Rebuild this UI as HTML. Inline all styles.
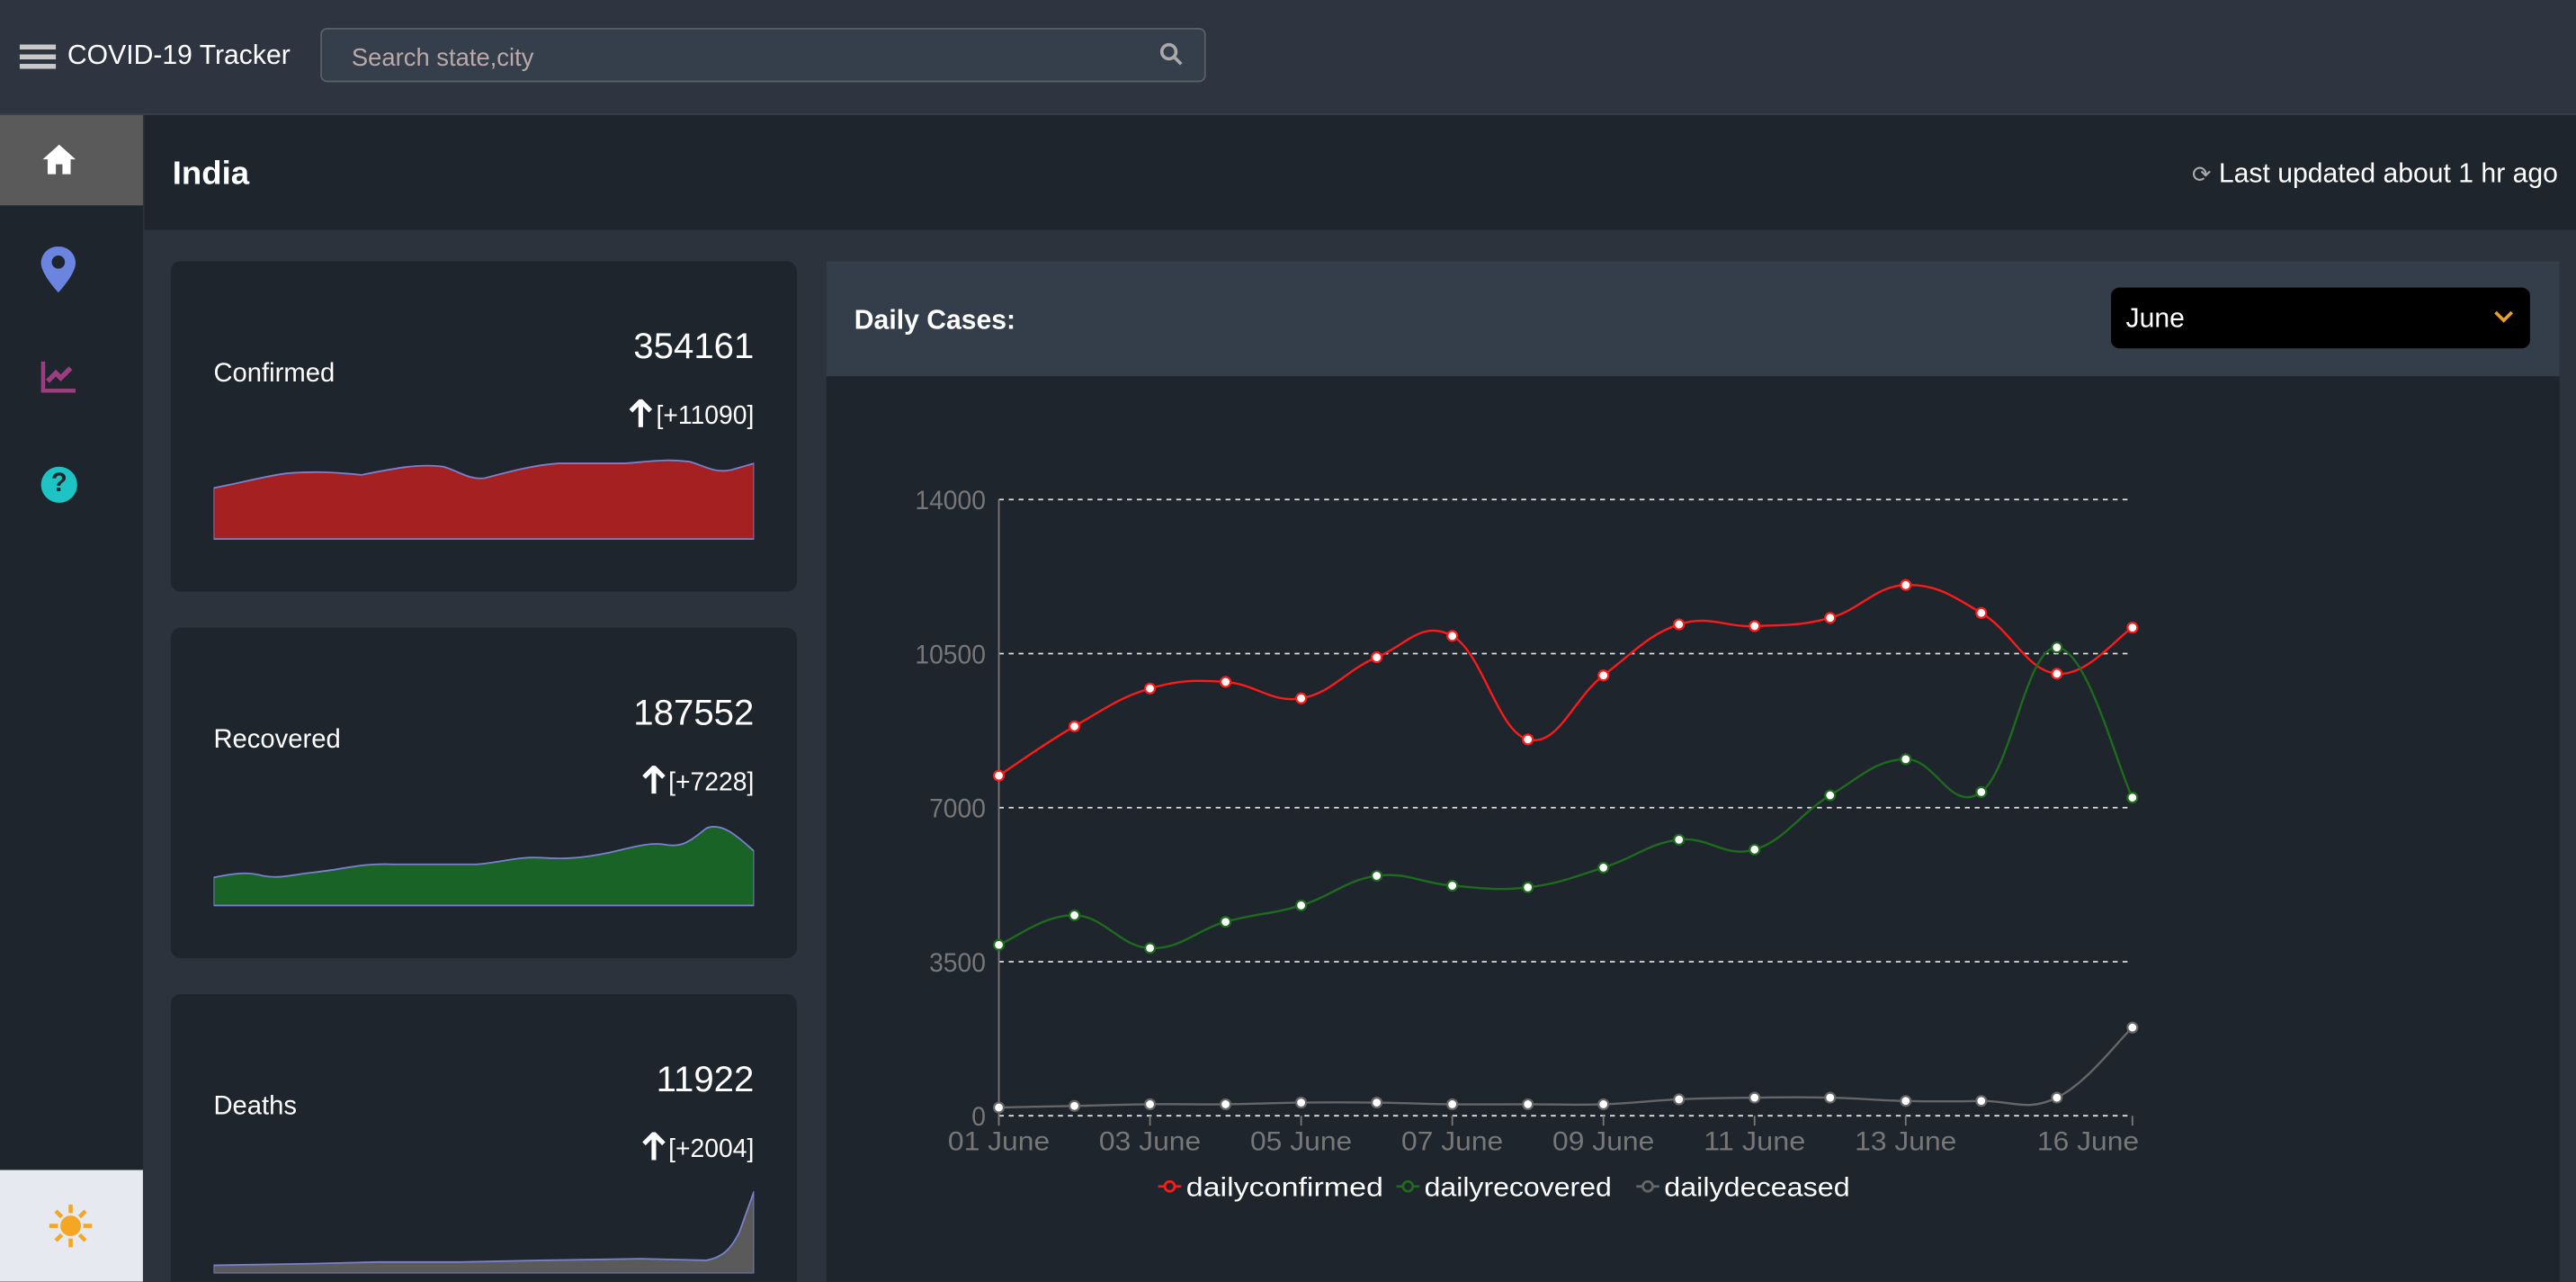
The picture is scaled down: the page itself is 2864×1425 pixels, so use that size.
<!DOCTYPE html>
<html><head><meta charset="utf-8">
<style>
html,body{margin:0;padding:0;background:#2d333d;overflow:hidden;width:2864px;height:1424px}
#w{position:absolute;left:0;top:0;width:1568px;height:780px;transform:scale(1.826531);transform-origin:0 0;font-family:"Liberation Sans",sans-serif;color:#fff;background:#2d333d;overflow:hidden}
.abs{position:absolute}
.card{position:absolute;left:104px;width:381px;height:201px;background:#1f252d;border-radius:6px}
.lbl{position:absolute;left:26px;font-size:16px}
.num{position:absolute;right:26px;font-size:22px}
.delta{position:absolute;right:26px;font-size:15.5px}
.arr{display:inline-block;vertical-align:-2px;margin-right:2px}
</style></head><body>
<div id="w">
<div class="abs" style="left:0;top:0;width:1568px;height:69px;background:#2e3440;border-bottom:1px solid #3a414c"></div>
<div class="abs" style="left:12px;top:27px;width:22px;height:15px;background:repeating-linear-gradient(#c8c8c8 0 3px,transparent 3px 6px)"></div>
<div class="abs" style="left:41px;top:25px;font-size:16.5px">COVID-19 Tracker</div>
<div class="abs" style="left:195px;top:17px;width:537px;height:31px;background:#353e4b;border:1px solid #5a5f66;border-radius:4px">
<span style="position:absolute;left:18px;top:9px;font-size:15px;color:#bba8a8">Search state,city</span>
<svg class="abs" style="left:510px;top:8px" width="14" height="14"><circle cx="5.5" cy="5.5" r="4.3" stroke="#aaa" stroke-width="2" fill="none"/><line x1="8.5" y1="8.5" x2="13" y2="13" stroke="#aaa" stroke-width="2"/></svg>
</div>
<div class="abs" style="left:0;top:70px;width:87px;height:710px;background:#1f252d"></div>
<div class="abs" style="left:0;top:70px;width:87px;height:55px;background:#5a5a5a">
<svg class="abs" style="left:25px;top:17px" width="22" height="20"><path d="M11 1 L1 10 L4 10 L4 19 L9 19 L9 13 L13 13 L13 19 L18 19 L18 10 L21 10 Z" fill="#fff"/></svg></div>
<svg class="abs" style="left:24px;top:149px" width="23" height="30"><path d="M11.5 1 C5 1 1 6 1 11 C1 18 11.5 29 11.5 29 C11.5 29 22 18 22 11 C22 6 18 1 11.5 1Z" fill="#6b84e0"/><circle cx="11.5" cy="10.5" r="4" fill="#1f252d"/></svg>
<svg class="abs" style="left:25px;top:219px" width="22" height="20"><path d="M1 1 V19 H21" stroke="#9b3d80" stroke-width="3" fill="none"/><path d="M4 13 L9 8 L12 11 L18 5" stroke="#9b3d80" stroke-width="3" fill="none"/></svg>
<div class="abs" style="left:25px;top:284px;width:22px;height:22px;border-radius:50%;background:#1ec4c4;color:#1f252d;font-weight:bold;font-size:16px;text-align:center;line-height:22px">?</div>
<div class="abs" style="left:0;top:712px;width:87px;height:68px;background:#e6eaf0">
<svg class="abs" style="left:29px;top:20px" width="28" height="28"><g stroke="#f5a623" stroke-width="2.5"><line x1="14" y1="1" x2="14" y2="27"/><line x1="1" y1="14" x2="27" y2="14"/><line x1="5" y1="5" x2="23" y2="23"/><line x1="23" y1="5" x2="5" y2="23"/></g><circle cx="14" cy="14" r="7" fill="#f5a623" stroke="#e6eaf0" stroke-width="1.5"/></svg></div>
<div class="abs" style="left:88px;top:70px;width:1480px;height:70px;background:#1f252d"></div>
<div class="abs" style="left:105px;top:95px;font-size:20px;font-weight:bold">India</div>
<div class="abs" style="right:11px;top:97px;font-size:16.5px"><span style="color:#aaa;font-size:14px">⟳</span> Last updated about 1 hr ago</div>

<div class="card" style="top:159px">
<div class="lbl" style="top:60px">Confirmed</div><div class="num" style="top:39px">354161</div><div class="delta" style="top:84px"><svg class="arr" width="14" height="17"><path d="M7 1 L7 17 M1 7 L7 1 L13 7" stroke="#fff" stroke-width="2.8" fill="none"/></svg>[+11090]</div>
<svg class="abs" style="left:26px;top:110px" width="329" height="60"><path d="M0 28 C20 24 35 20 45 19 C60 18 70 18 90 20 C110 16 125 13 140 15 C150 18 155 23 165 22 C180 18 195 14 210 13 L250 13 C265 12 275 10 290 12 C300 15 305 19 315 17 L329 13 L329 59 L0 59Z" fill="#a52121" stroke="#7b7fd0" stroke-width="1"/></svg></div>

<div class="card" style="top:382px">
<div class="lbl" style="top:60px">Recovered</div><div class="num" style="top:39px">187552</div><div class="delta" style="top:84px"><svg class="arr" width="14" height="17"><path d="M7 1 L7 17 M1 7 L7 1 L13 7" stroke="#fff" stroke-width="2.8" fill="none"/></svg>[+7228]</div>
<svg class="abs" style="left:26px;top:110px" width="329" height="60"><path d="M0 42 C10 40 20 38 30 41 C40 43 50 40 60 39 C80 37 90 33 110 34 L160 34 C175 33 185 29 200 30 C215 31 225 30 240 27 C250 25 265 20 275 22 C285 24 290 20 300 12 C310 8 320 18 329 26 L329 59 L0 59Z" fill="#1a6326" stroke="#7b7fd0" stroke-width="1"/></svg></div>

<div class="card" style="top:605px;height:190px">
<div class="lbl" style="top:60px">Deaths</div><div class="num" style="top:39px">11922</div><div class="delta" style="top:84px"><svg class="arr" width="14" height="17"><path d="M7 1 L7 17 M1 7 L7 1 L13 7" stroke="#fff" stroke-width="2.8" fill="none"/></svg>[+2004]</div>
<svg class="abs" style="left:26px;top:110px" width="329" height="60"><path d="M0 55 L60 54 L100 53 L150 53 L200 52 L260 51 L300 52 C310 50 315 45 320 35 L329 10 L329 60 L0 60Z" fill="#5a5a5a" stroke="#7b7fd0" stroke-width="1"/></svg></div>

<div class="abs" style="left:503px;top:159px;width:1055px;height:640px;background:#1f252d"></div>
<div class="abs" style="left:503px;top:159px;width:1055px;height:70px;background:#343d4a"></div>
<div class="abs" style="left:520px;top:186px;font-size:16.5px;font-weight:bold">Daily Cases:</div>
<div class="abs" style="left:1285px;top:175px;width:255px;height:37px;background:#000;border-radius:5px;font-size:16.5px;line-height:39px">
<span style="position:absolute;left:9px">June</span>
<svg class="abs" style="left:233px;top:14px" width="12" height="8"><path d="M1 1 L6 6 L11 1" stroke="#f0a020" stroke-width="2" fill="none"/></svg></div>

<svg id="chart" class="abs" style="left:0;top:0" width="1568" height="780"></svg>
</div>
<script>
const categories=["01 June","02 June","03 June","04 June","05 June","06 June","07 June","08 June","09 June","10 June","11 June","12 June","13 June","14 June","15 June","16 June"];
const dailyconfirmed=[7728,8848,9707,9856,9483,10416,10901,8549,10005,11163,11125,11312,12059,11424,10043,11090];
const dailyrecovered=[3883,4555,3808,4405,4779,5451,5227,5189,5637,6272,6048,7280,8101,7355,10640,7228];
const dailydeceased=[187,224,261,261,299,299,261,261,261,373,411,411,336,336,411,2004];
const yTicks=[0,3500,7000,10500,14000];
const xTickIdx=[0,2,4,6,8,10,12,15];
const seriesNames=["dailyconfirmed","dailyrecovered","dailydeceased"];
const seriesColors=["#ff1a1a","#1e6b1e","#666666"];

const NS="http://www.w3.org/2000/svg";
const svg=document.getElementById('chart');
const X0=608,X1=1298,Y0=679,Y1=304;
const FF='Liberation Sans, sans-serif';
const xS=i=>X0+(X1-X0)*i/(categories.length-1);
const yS=v=>Y0-(Y0-Y1)*v/14000;
function mk(t,a,p){const e=document.createElementNS(NS,t);for(const k in a)e.setAttribute(k,a[k]);(p||svg).appendChild(e);return e;}
yTicks.forEach(v=>{
 const l=mk('line',{x1:X0,x2:1296,y1:yS(v),y2:yS(v),stroke:'#ddd','stroke-width':1,'stroke-dasharray':'3,3'});
 
 
 const t=mk('text',{x:X0-8,y:yS(v)+6,'text-anchor':'end',fill:'#777','font-size':16,'font-family':FF,'textLength':String(v).length*8.6,'lengthAdjust':'spacingAndGlyphs'});
 t.textContent=v;
 
 
});
const ax=mk('line',{x1:X0,x2:X0,y1:Y1,y2:Y0+6,stroke:'#777','stroke-width':1});


xTickIdx.forEach(i=>{
 mk('line',{x1:xS(i),x2:xS(i),y1:Y0,y2:Y0+6,stroke:'#777'});
 const t=mk('text',{x:xS(i),y:Y0+21,'text-anchor':i===15?'end':'middle',fill:'#777','font-size':16,'font-family':FF,'textLength':62,'lengthAdjust':'spacingAndGlyphs'});
 t.textContent=categories[i];
 if(i===15)t.setAttribute('x',xS(i)+4);
 
 
});
function pathFor(vals){
 const p=vals.map((v,i)=>[xS(i),yS(v)]);let d=`M${p[0][0]},${p[0][1]}`;const k=0.2;
 for(let i=0;i<p.length-1;i++){const a=p[i-1]||p[i],b=p[i],c=p[i+1],e=p[i+2]||c;
  d+=` C${b[0]+(c[0]-a[0])*k},${b[1]+(c[1]-a[1])*k} ${c[0]-(e[0]-b[0])*k},${c[1]-(e[1]-b[1])*k} ${c[0]},${c[1]}`;}
 return d;}
[dailyconfirmed,dailyrecovered,dailydeceased].forEach((vals,s)=>{
 const ln=mk('path',{d:pathFor(vals),fill:'none',stroke:seriesColors[s],'stroke-width':1.3});
 
 
 vals.forEach((v,i)=>{
  const c=mk('circle',{cx:xS(i),cy:yS(v),r:3,fill:'#fff',stroke:seriesColors[s],'stroke-width':1.2});
  
  
 });
});
const legX=[705,850,996];
const legW=[120,114,113];
seriesNames.forEach((n,s)=>{
 const g=mk('g',{});
 
 
 mk('line',{x1:legX[s],x2:legX[s]+14,y1:722,y2:722,stroke:seriesColors[s],'stroke-width':1.5},g);
 mk('circle',{cx:legX[s]+7,cy:722,r:3,fill:'#1f252d',stroke:seriesColors[s],'stroke-width':1.5},g);
 const t=mk('text',{x:legX[s]+17,y:728,fill:'#fff','font-size':16,'font-family':FF,'textLength':legW[s],'lengthAdjust':'spacingAndGlyphs'},g);
 t.textContent=n;
});
</script>
</body></html>
